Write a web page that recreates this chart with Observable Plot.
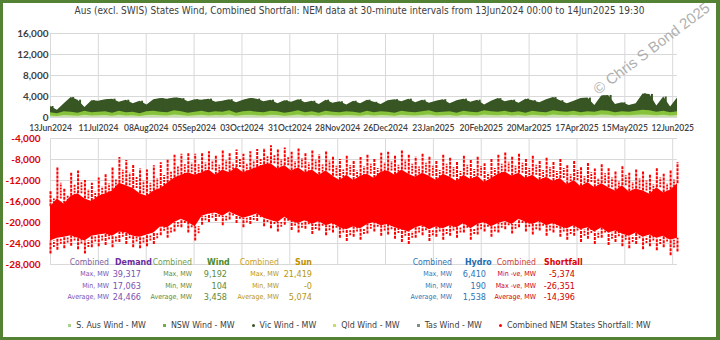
<!DOCTYPE html>
<html><head><meta charset="utf-8">
<script src="https://cdn.jsdelivr.net/npm/d3@7"></script>
<script src="https://cdn.jsdelivr.net/npm/@observablehq/plot@0.6"></script>
<style>
html,body{margin:0;padding:0;background:#fff;}
#frame{position:relative;width:720px;height:340px;box-sizing:border-box;border:3px solid #548235;border-right-width:4px;overflow:hidden;font-family:"Liberation Sans Narrow","DejaVu Sans Condensed","Roboto Condensed",sans-serif;font-stretch:condensed;}
#title{position:absolute;left:0;right:0;top:2px;text-align:center;font-size:10px;color:#404040;white-space:nowrap;}
#chart{position:absolute;left:0;top:17px;}
#stats{position:absolute;left:0;top:0;width:100%;height:100%;pointer-events:none;}
.st{position:absolute;white-space:nowrap;line-height:1;}
#legend{position:absolute;left:0;right:0;top:317px;display:flex;justify-content:center;gap:17px;font-size:8.8px;color:#404040;white-space:nowrap;}
#legend span.mk{display:inline-block;margin-right:5px;vertical-align:middle;}
#wm{position:absolute;left:592px;top:79px;transform-origin:0 50%;transform:rotate(-37deg);font-family:"Liberation Sans","DejaVu Sans",sans-serif;font-size:15px;color:#b0b0b0;white-space:nowrap;}
</style></head>
<body>
<div id="frame">
  <div id="title"></div>
  <div id="chart"></div>
  <div id="stats"></div>
  <div id="wm"></div>
  <div id="legend"></div>
</div>
<script>
const titleText = "Aus (excl. SWIS) States Wind, Combined Shortfall: NEM data at 30-minute intervals from 13Jun2024 00:00 to 14Jun2025 19:30";
const watermark = "© Chris S Bond  2025";
const xTickLabels = ["13Jun2024","11Jul2024","08Aug2024","05Sep2024","03Oct2024","31Oct2024","28Nov2024","26Dec2024","23Jan2025","20Feb2025","20Mar2025","17Apr2025","15May2025","12Jun2025"];
const topTicks = [16000, 12000, 8000, 4000, 0];
const bottomTicks = [-4000, -8000, -12000, -16000, -20000, -24000, -28000];
const periodStart = "2024-06-13T00:00Z";
const periodEnd = "2025-06-14T19:30Z";

// Wind (MW) – envelope read at ~4-day spacing
const windDark = [2100,1400,2600,3800,3300,1900,3200,3100, 3400,3500,2900,3300,2600,3100,2400, 3400,3600,3500,3700,3600,3000,3400,
  3300,3500,2900,3100,3400,2800,3300,3600, 3500,3000,3300,2600,3200,2900,3400, 2800,3100,2500,3300,2700,3000,2400,
  3100,2600,3300,2900,2500,3200,3400, 3000,3500,2800,3300,2700,3100,3400, 2600,3200,3500,2900,3300,2400,3100,
  3600,3000,3300,2700,3500,3200,2800, 3400,3800,3200,2600,3100,3600,3700,2300, 4100,4200,2500,2800,2300,2600, 4500,4400,2200,3900,2000,3700];
const windLight = [900,700,1100,1000,800,1200,900,1000, 1100,800,1200,900,1000,700,1100, 1200,1000,900,1300,1100,800,1000,
  1200,900,1100,1000,1300,800,1100,1200, 1000,900,1200,1100,800,1000,1300, 900,1100,800,1200,1000,900,1100,
  1000,800,1200,900,1100,1000,800, 1200,1000,900,1100,1300,900,1000, 1100,800,1200,1000,900,1300,1100,
  1000,1200,900,1100,800,1200,1000, 900,1300,1100,1000,1200,900,1100,1000, 1300,1200,900,1100,1000,1200, 1400,1300,1000,1200,900,1100];
const windPale = [300,200,400,350,250,450,300,350, 400,250,450,300,350,200,400, 450,350,300,500,400,250,350,
  450,300,400,350,500,250,400,450, 350,300,450,400,250,350,500, 300,400,250,450,350,300,400,
  350,250,450,300,400,350,250, 450,350,300,400,500,300,350, 400,250,450,350,300,500,400,
  350,450,300,400,250,450,350, 300,500,400,350,450,300,400,350, 500,450,300,400,350,450, 500,450,350,450,300,400];
// Combined shortfall (MW): outer envelope (peaks) and dense core
const shortHigh = [-14000,-9500,-13500,-10500,-10200,-12000,-12500,-11500, -10800,-9600,-7600,-8200,-9000,-9800,-10000,
  -9200,-8600,-8000,-7200,-7000,-6900,-7000, -6800,-6500,-7200,-6400,-6900,-6200,-7000,-6500,
  -6100,-5900,-5400,-6200,-5800,-6600,-6000, -6800,-6300,-7100,-6500,-7400,-8000,-7300,
  -8400,-7600,-7000,-7800,-6800,-6600,-7200, -6300,-7000,-7500,-6800,-7400,-8200,-7000,
  -7600,-8400,-7200,-8000,-7500,-8800,-7800, -7000,-6600,-7400,-6800,-7800,-7200,-8200,
  -7600,-8400,-7800,-9000,-8200,-9400,-8600,-9800, -8800,-9600,-10400,-9200,-10600,-9800, -10200,-11000,-9600,-10800,-10000,-8600];
const shortLow = [-26000,-25300,-25000,-24500,-25200,-26000,-24800,-24600, -24400,-24800,-23800,-24200,-24800,-25000,-24600,
  -24200,-22500,-23000,-21800,-21000,-22000,-23500, -20500,-20000,-19800,-20600,-19500,-20200,-21000,-20400,
  -19800,-20800,-21200,-21800,-20500,-21500,-22000, -21300,-22300,-21600,-22500,-22000,-23000,-23600,
  -22800,-23400,-22200,-21800,-22600,-22400,-23200, -23800,-24200,-23000,-22500,-23600,-22800,-23400,
  -22600,-23000,-22000,-23400,-22400,-21800,-22800, -22000,-21400,-22200,-21000,-21800,-22400,-21600,
  -22600,-22000,-22800,-23400,-22600,-23800,-23200,-24200, -23000,-24400,-23800,-24600,-25000,-24200, -25200,-24600,-25400,-24800,-26350,-25600];
const shortCoreHigh = [-17000,-15500,-16500,-15000,-14500,-15500,-16000,-15000, -14500,-14000,-12500,-13000,-13500,-14500,-15000,
  -14000,-13500,-12500,-11500,-11000,-10500,-11000, -10500,-10000,-11000,-10000,-10500,-9500,-10500,-10000,
  -9500,-9000,-8800,-9800,-9200,-10200,-9600, -10500,-10000,-11000,-10200,-11200,-12000,-11000,
  -12000,-11200,-10800,-11600,-10400,-10200,-11000, -10000,-10800,-11400,-10600,-11200,-12000,-10800,
  -11400,-12200,-11000,-11800,-11200,-12400,-11600, -10800,-10400,-11200,-10600,-11600,-11000,-12000,
  -11400,-12200,-11600,-12800,-12000,-13200,-12400,-13400, -12600,-13400,-14000,-13000,-14200,-13600, -14000,-14600,-13400,-14400,-13800,-12600];
const shortCoreLow = [-23500,-23000,-22800,-22500,-23000,-23500,-22600,-22400, -22200,-22600,-21800,-22000,-22600,-22800,-22400,
  -22000,-20800,-21000,-20000,-19400,-20000,-20800, -18800,-18400,-18200,-18800,-18000,-18600,-19200,-18800,
  -18400,-19200,-19600,-20000,-19000,-19800,-20200, -19600,-20400,-19800,-20600,-20200,-21000,-21400,
  -20800,-21200,-20400,-20000,-20600,-20400,-21000, -21400,-21800,-21000,-20600,-21400,-20800,-21200,
  -20600,-21000,-20200,-21200,-20400,-20000,-20800, -20200,-19800,-20400,-19400,-20000,-20400,-19800,
  -20600,-20200,-20800,-21200,-20600,-21400,-21000,-21800, -21000,-22000,-21600,-22200,-22600,-22000, -22800,-22400,-23000,-22600,-23400,-23000];

// Statistics
const statLabels = ["Max, MW", "Min, MW", "Average, MW"];
const shortfallLabels = ["Min -ve, MW", "Max -ve, MW", "Average, MW"];
const demandStats = [39317, 17063, 24466];
const windStats = [9192, 104, 3458];
const sunStats = [21419, -0, 5074];
const hydroStats = [6410, 190, 1538];
const shortfallStats = [-5374, -26351, -14396];

const legendNames = ["S. Aus Wind - MW", "NSW Wind - MW", "Vic Wind - MW", "Qld Wind - MW", "Tas Wind - MW", "Combined NEM States Shortfall: MW"];
const legendColors = ["#a9d18e", "#70ad47", "#375623", "#c9dc6a", "#7f8f7f", "#ff0000"];

// ---------- build ----------
const fmt = v => Object.is(v, -0) ? "-0" : d3.format(",")(v).replace("\u2212", "-");
document.getElementById("title").textContent = titleText;
document.getElementById("wm").textContent = watermark;

const t0 = new Date(periodStart), t1 = new Date(periodEnd);
const n = shortHigh.length;
const rows = shortHigh.map((h, i) => ({
  t: new Date(+t0 + i * (t1 - t0) / (n - 1)),
  dark: windDark[i], light: windLight[i], pale: windPale[i],
  hi: h, lo: shortLow[i], cHi: shortCoreHigh[i], cLo: shortCoreLow[i]
}));
const inner = rows.slice(0, -1);
const parseTick = d3.utcParse("%d%b%Y");
const xTicks = xTickLabels.map(parseTick);
const gapY = (d3.min(topTicks) + d3.max(bottomTicks)) / 2;
const grid = "#d9d9d9";
const red = "#ff0000";

const chart = Plot.plot({
  width: 713, height: 260,
  marginLeft: 47, marginRight: 39, marginTop: 13, marginBottom: 16,
  style: {fontFamily: "Lato, 'Open Sans', sans-serif", fontSize: "10px", background: "transparent"},
  x: {type: "utc", domain: [t0, t1], axis: null},
  y: {domain: [d3.min(bottomTicks), d3.max(topTicks)]},
  marks: [
    Plot.ruleY(topTicks.concat(bottomTicks), {stroke: grid, strokeWidth: 1}),
    Plot.ruleX(xTicks, {y1: d3.min(topTicks), y2: d3.max(topTicks), stroke: grid}),
    Plot.ruleX(xTicks, {y1: d3.min(bottomTicks), y2: d3.max(bottomTicks), stroke: grid}),
    // wind
    Plot.areaY(rows, {x: "t", y1: 0, y2: "dark", fill: "#375623"}),
    Plot.ruleX(inner, {x: "t", y1: 0, y2: "dark", stroke: "#375623", strokeWidth: 2, dx: 2}),
    Plot.areaY(rows, {x: "t", y1: 0, y2: "light", fill: "#86c23a"}),
    Plot.areaY(rows, {x: "t", y1: 0, y2: "pale", fill: "#c5e0a5"}),
    // shortfall
    Plot.areaY(rows, {x: "t", y1: "cLo", y2: "cHi", fill: red}),
    Plot.ruleX(rows, {x: "t", y1: "cHi", y2: "hi", stroke: red, strokeWidth: 2, strokeDasharray: "3,1"}),
    Plot.ruleX(rows, {x: "t", y1: "lo", y2: "cLo", stroke: red, strokeWidth: 2, strokeDasharray: "3,1"}),
    Plot.ruleX(inner, {x: "t", y1: "cHi", y2: d => (d.hi + d.cHi) / 2, stroke: red, strokeWidth: 1.8, dx: 3.4, strokeDasharray: "2,1"}),
    Plot.ruleX(inner, {x: "t", y1: d => (d.lo + d.cLo) / 2, y2: "cLo", stroke: red, strokeWidth: 1.8, dx: 3.4, strokeDasharray: "2,1"}),
    // axes / labels
    Plot.text(xTickLabels, {x: (d, i) => xTicks[i], y: gapY, text: d => d, fill: "#404040", fontSize: 8.5, fontWeight: 600}),
    Plot.axisY(topTicks, {tickSize: 0, tickPadding: 2, tickFormat: fmt, fill: "#404040", fontWeight: "bold", fontSize: 10}),
    Plot.axisY(bottomTicks, {tickSize: 0, tickPadding: 10, tickFormat: fmt, fill: "#e00000", fontWeight: "bold", fontSize: 10})
  ]
});
document.getElementById("chart").appendChild(chart);

// stats overlay
const stats = document.getElementById("stats");
function put(text, x, y, align, color, size, weight) {
  const d = document.createElement("div");
  d.className = "st";
  d.textContent = text;
  d.style.color = color; d.style.fontSize = size + "px"; d.style.fontWeight = weight || "normal";
  d.style.top = (y - 3 - size / 2) + "px";
  if (align === "right") { d.style.right = (717 - x) + "px"; } else { d.style.left = (x - 3) + "px"; }
  stats.appendChild(d);
}
const cols = [
  {name: "Demand", vals: demandStats, labels: statLabels, lr: 110, nl: 115, vr: 142, c1: "#8064a2", c2: "#6a2c9c", c3: "#7a52b3"},
  {name: "Wind", vals: windStats, labels: statLabels, lr: 193, nl: 207, vr: 228, c1: "#6f9e4f", c2: "#4e8a2a", c3: "#5d8a3c"},
  {name: "Sun", vals: sunStats, labels: statLabels, lr: 280, nl: 295, vr: 313, c1: "#c9a227", c2: "#bf9000", c3: "#b8960c"},
  {name: "Hydro", vals: hydroStats, labels: statLabels, lr: 453, nl: 465, vr: 487, c1: "#2e75b6", c2: "#1f6bb0", c3: "#2e75b6"},
  {name: "Shortfall", vals: shortfallStats, labels: shortfallLabels, lr: 537, nl: 544, vr: 576, c1: "#d04040", c2: "#e00000", c3: "#d00000"}
];
const rowY = [274, 286, 297];
cols.forEach(c => {
  put("Combined", c.lr, 262, "right", c.c1, 8.6);
  put(c.name, c.nl, 262, "left", c.c2, 8.8, "bold");
  c.labels.forEach((l, i) => put(l, c.lr, rowY[i], "right", c.c3, 7));
  c.vals.forEach((v, i) => put(fmt(v), c.vr, rowY[i], "right", c.c3, 9));
});

// legend
const lg = document.getElementById("legend");
legendNames.forEach((name, i) => {
  const s = document.createElement("span");
  const mk = document.createElement("span");
  mk.className = "mk";
  mk.style.width = "3px"; mk.style.height = "3px"; mk.style.background = legendColors[i];
  if (i === 2 || i === 5) mk.style.borderRadius = "50%";
  s.appendChild(mk);
  s.appendChild(document.createTextNode(name));
  lg.appendChild(s);
});
</script>
</body></html>
